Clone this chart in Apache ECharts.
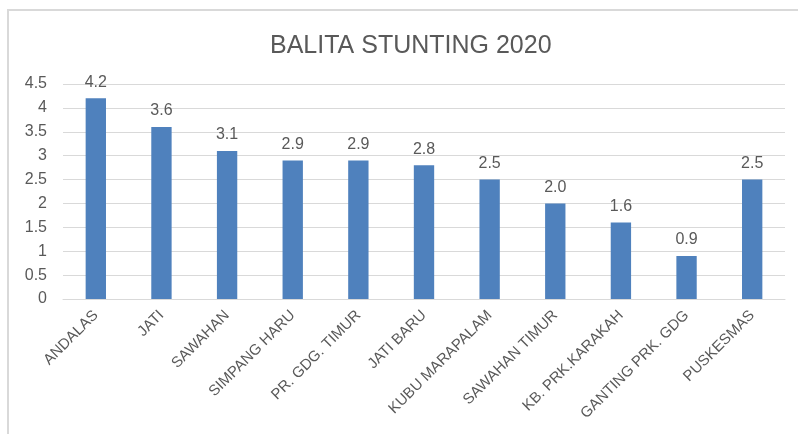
<!DOCTYPE html>
<html>
<head>
<meta charset="utf-8">
<script src="https://cdn.jsdelivr.net/npm/echarts@6/dist/echarts.min.js"></script>
<style>
  html, body { margin: 0; padding: 0; background: #fff; }
  #main { width: 798px; height: 434px; }
</style>
</head>
<body>
<div id="main"></div>
<script>
  var categories = ['ANDALAS', 'JATI', 'SAWAHAN', 'SIMPANG HARU', 'PR. GDG. TIMUR', 'JATI BARU',
    'KUBU MARAPALAM', 'SAWAHAN TIMUR', 'KB. PRK.KARAKAH', 'GANTING PRK. GDG', 'PUSKESMAS'];
  var stunting = [4.2, 3.6, 3.1, 2.9, 2.9, 2.8, 2.5, 2.0, 1.6, 0.9, 2.5];

  var font = 'Liberation Sans';
  var myChart = echarts.init(document.getElementById('main'));
  var option = {
    animation: false,
    backgroundColor: '#fff',
    title: {
      text: 'BALITA STUNTING 2020',
      left: 265,
      top: 29,
      textStyle: { fontFamily: font, fontSize: 25, fontWeight: 'normal', color: '#595959' }
    },
    graphic: [{
      type: 'rect',
      shape: { x: 8, y: 10, width: 800, height: 440 },
      style: { fill: 'none', stroke: '#d9d9d9', lineWidth: 2 },
      silent: true
    }],
    grid: { left: 63, right: 13, top: 84, bottom: 135 },
    xAxis: {
      type: 'category',
      data: categories,
      axisTick: { show: false },
      axisLine: { lineStyle: { color: '#d9d9d9' } },
      axisLabel: {
        rotate: 45, interval: 0, margin: 14,
        fontFamily: font, fontSize: 15, color: '#595959'
      }
    },
    yAxis: {
      type: 'value',
      min: 0, max: 4.5, interval: 0.5,
      axisLine: { show: false },
      axisTick: { show: false },
      splitLine: { lineStyle: { color: '#d9d9d9' } },
      axisLabel: { margin: 16, fontFamily: font, fontSize: 16, color: '#595959' }
    },
    series: [{
      type: 'bar',
      data: stunting,
      barWidth: '31%',
      itemStyle: { color: '#4f81bd' },
      label: {
        show: true, position: 'top', distance: 8,
        fontFamily: font, fontSize: 16, color: '#595959',
        formatter: function (p) { return p.value.toFixed(1); }
      }
    }]
  };
  myChart.setOption(option);
</script>
</body>
</html>
